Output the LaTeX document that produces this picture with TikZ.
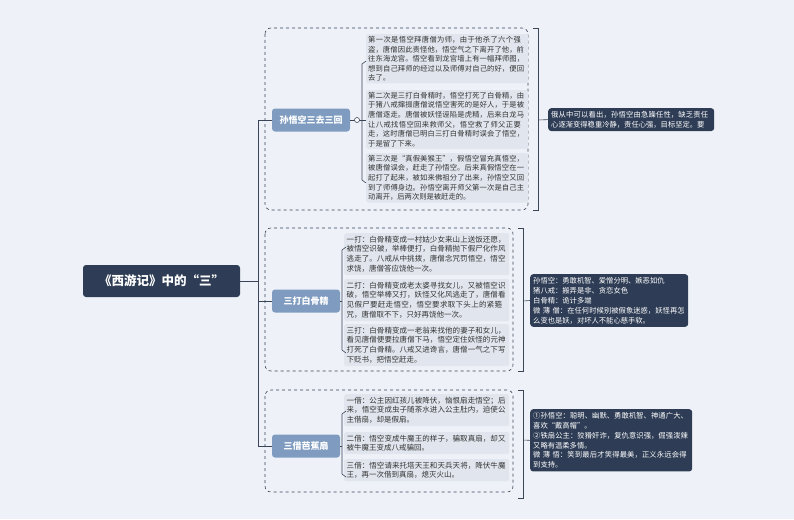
\documentclass[tikz,border=0pt]{standalone}
\usepackage{fontspec}
\setmainfont{Noto Sans CJK SC}
\XeTeXlinebreaklocale "zh"
\XeTeXlinebreakskip=0pt plus 1pt
\usetikzlibrary{positioning}
\definecolor{bg}{HTML}{EEF2F8}
\definecolor{navy}{HTML}{2E3D55}
\definecolor{mid}{HTML}{7F9CC0}
\definecolor{leaf}{HTML}{E1E6EE}
\definecolor{ln}{HTML}{3A4558}
\tikzset{
 root/.style={fill=navy,rounded corners=3pt,text=white,font=\bfseries\fontsize{12.5}{14}\selectfont,minimum width=157pt,minimum height=32pt,inner sep=0pt},
 main/.style={fill=mid,rounded corners=3pt,text=white,font=\bfseries\fontsize{9}{11}\selectfont,minimum height=23pt,inner sep=3pt},
 leafbox/.style={fill=leaf,rounded corners=2pt,text=black!80,font=\fontsize{7.5}{9.9}\selectfont,align=left,inner sep=2.5pt,anchor=north west},
 leafa/.style={leafbox,font=\fontsize{7.3}{9.6}\selectfont,inner sep=2pt,text width=158pt},
 sumbox/.style={fill=navy,rounded corners=3pt,text=white,font=\fontsize{7.3}{9.9}\selectfont,align=left,inner sep=3pt,anchor=north west},
 dbox/.style={draw=ln,dashed,rounded corners=6pt,line width=0.6pt},
 con/.style={draw=ln,line width=0.6pt},
}
\begin{document}
\begin{tikzpicture}[x=1pt,y=-1pt]
\fill[bg] (0,0) rectangle (794,519);
\useasboundingbox (0,0) rectangle (794,519);
\draw[dbox] (265,28) rectangle (528,210);
\draw[dbox] (265,228) rectangle (513,371);
\draw[dbox] (265,390) rectangle (513,492);
\node[root] (root) at (161.5,281) {《西游记》中的“三”};
\node[main,minimum width=78pt] (m1) at (311,120) {孙悟空三去三回};
\node[main,minimum width=68pt] (m2) at (306,301) {三打白骨精};
\node[main,minimum width=68pt] (m3) at (306,446) {三借芭蕉扇};
\coordinate (j) at (258,281);
\draw[con] (root.east) -- (j);
\draw[con] (258,120) -- (258,446);
\draw[con] (258,120) -- (m1.west);
\draw[con] (258,301) -- (m2.west);
\draw[con] (258,446) -- (m3.west);
\node[leafa] (a1) at (366,34) {第一次是悟空拜唐僧为师，由于他杀了六个强盗，唐僧因此责怪他，悟空气之下离开了他，前往东海龙宫。悟空看到龙宫墙上有一幅拜师图，想到自己拜师的经过以及师傅对自己的好，便回去了。};
\node[leafa] (a2) at (366,90) {第二次是三打白骨精时，悟空打死了白骨精，由于猪八戒撺掇唐僧说悟空害死的是好人，于是被唐僧逐走。唐僧被妖怪诬陷是虎精，后来白龙马让八戒找悟空回来救师父，悟空救了师父正要走，这时唐僧已明白三打白骨精时误会了悟空，于是留了下来。};
\node[leafa] (a3) at (366,153) {第三次是“真假美猴王”，假悟空冒充真悟空，被唐僧误会，赶走了孙悟空。后来真假悟空在一起打了起来，被如来佛祖分了出来，孙悟空又回到了师傅身边。孙悟空离开师父第一次是自己主动离开，后两次则是被赶走的。};
\draw[con] (m1.east) -- (362,120);
\draw[con,fill=white] (357,120) circle (2.5pt);
\draw[con] (366,61) -- (362,64) -- (362,180) -- (366,183);
\draw[con] (362,120) -- (366,120);
\node[leafbox,text width=160pt] (b1) at (344,233) {一打：白骨精变成一村姑少女来山上送饭还愿，被悟空识破，举棒便打，白骨精抛下假尸化作风逃走了。八戒从中挑拨，唐僧念咒罚悟空，悟空求饶，唐僧答应饶他一次。};
\node[leafbox,text width=160pt] (b2) at (344,279) {二打：白骨精变成老太婆寻找女儿，又被悟空识破，悟空举棒又打，妖怪又化风逃走了，唐僧看见假尸要赶走悟空，悟空要求取下头上的紧箍咒，唐僧取不下，只好再饶他一次。};
\node[leafbox,text width=160pt] (b3) at (344,324) {三打：白骨精变成一老翁来找他的妻子和女儿，看见唐僧便要拉唐僧下马，悟空定住妖怪的元神打死了白骨精。八戒又进谗言，唐僧一气之下写下贬书，把悟空赶走。};
\draw[con] (m2.east) -- (342,301);
\draw[con] (346,247) -- (342,250) -- (342,350) -- (346,353);
\node[leafbox,text width=160pt] (c1) at (344,394) {一借：公主因红孩儿被降伏，恼恨扇走悟空；后来，悟空变成虫子随茶水进入公主肚内，迫使公主借扇，却是假扇。};
\node[leafbox,text width=160pt] (c2) at (344,432) {二借：悟空变成牛魔王的样子，骗取真扇，却又被牛魔王变成八戒骗回。};
\node[leafbox,text width=160pt] (c3) at (344,459) {三借：悟空请来托塔天王和天兵天将，降伏牛魔王，再一次借到真扇，熄灭火山。};
\draw[con] (m3.east) -- (342,446);
\draw[con] (346,411) -- (342,414) -- (342,474) -- (346,477);
\draw[con] (533,28) -- (538,28) -- (538,210) -- (533,210);
\draw[con] (518,228) -- (523,228) -- (523,371) -- (518,371);
\draw[con] (518,390) -- (523,390) -- (523,498) -- (518,498);
\node[sumbox,text width=160pt] (s1) at (548,108) {俄从中可以看出，孙悟空由急躁任性，缺乏责任心逐渐变得稳重冷静，责任心强，目标坚定。要};
\node[sumbox,text width=152pt] (s2) at (530,274) {孙悟空：勇敢机智、爱憎分明、嫉恶如仇\\猪八戒：搬弄是非、贪恋女色\\白骨精：诡计多端\\微 薄 僧：在任何时候别被假象迷惑，妖怪再怎么变也是妖，对坏人不能心慈手软。};
\node[sumbox,text width=156pt] (s3) at (530,409) {①孙悟空：聪明、幽默、勇敢机智、神通广大、喜欢“戴高帽”。\\②铁扇公主：狡猾奸诈，复仇意识强，倔强泼辣又略有温柔多情。\\微 薄 悟：笑到最后才笑得最美，正义永远会得到支持。};
\draw[con] (538,120) -- (s1.west);
\draw[con] (523,301) -- (s2.west);
\draw[con] (523,440) -- (s3.west);
\end{tikzpicture}
\end{document}
